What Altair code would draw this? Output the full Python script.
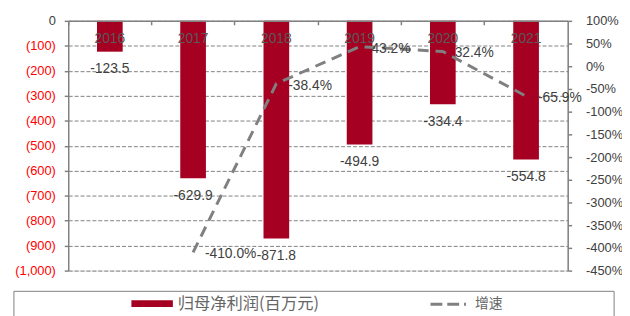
import altair as alt
import pandas as pd

years = ["2016", "2017", "2018", "2019", "2020", "2021"]
profit = [-123.5, -629.9, -871.8, -494.9, -334.4, -554.8]
growth = [None, -410.0, -38.4, 43.2, 32.4, -65.9]

bar_name = "归母净利润(百万元)"
line_name = "增速"

W, H = 506, 253

df = pd.DataFrame({"year": years, "profit": profit, "growth": growth})
df["profit_lbl"] = [f"{v:.1f}" for v in profit]
df["growth_lbl"] = [("" if g is None or pd.isna(g) else f"{g:.1f}%") for g in growth]

BAR_COLOR = "#A50021"
GREY = "#808080"
TXT = "#404040"
FONT = "Liberation Sans"

x_enc = alt.X(
    "year:N",
    sort=years,
    scale=alt.Scale(paddingInner=0, paddingOuter=0),
    axis=alt.Axis(
        orient="bottom", offset=-H, title=None, bandPosition=0,
        labelAngle=0, tickSize=4, tickColor=GREY, tickWidth=1.5,
        domainColor=GREY, domainWidth=1.5, labelPadding=7,
        labelColor="#595959", labelFont=FONT, labelFontSize=14,
        labelBaseline="top", zindex=1,
    ),
)

left_y = alt.Y(
    "profit:Q",
    scale=alt.Scale(domain=[-1000, 0], nice=False, zero=False),
    axis=alt.Axis(
        title=None, values=list(range(-1000, 1, 100)), labelOverlap=False,
        labelExpr="datum.value == 0 ? '0' : '(' + format(-datum.value, ',') + ')'",
        labelColor=alt.condition("datum.value == 0", alt.value(TXT), alt.value("#FF0000")),
        labelFont=FONT, labelFontSize=13, labelPadding=9,
        tickSize=4, tickColor=GREY, tickWidth=1.5, domainColor=GREY, domainWidth=1.5,
        grid=True, gridColor=GREY, gridDash=[4, 2], gridWidth=1,
    ),
)

bars = alt.Chart(df).mark_bar(color=BAR_COLOR, size=26).encode(x=x_enc, y=left_y)

bar_labels = alt.Chart(df).mark_text(
    baseline="middle", align="center", dy=18, font=FONT, fontSize=14, color=TXT
).encode(x=x_enc, y=left_y, text="profit_lbl:N")

left = alt.layer(bars, bar_labels)

right_y = alt.Y(
    "growth:Q",
    scale=alt.Scale(domain=[-450, 100], nice=False, zero=False),
    axis=alt.Axis(
        orient="right", title=None, values=list(range(-450, 101, 50)),
        labelOverlap=False, labelFlush=False,
        labelExpr="datum.value + '%'", labelColor=TXT, labelFont=FONT,
        labelFontSize=13, labelPadding=14, tickSize=4, tickColor=GREY, tickWidth=1.5,
        domainColor=GREY, domainWidth=1.5, grid=False,
    ),
)

line = alt.Chart(df).mark_line(
    color=GREY, strokeWidth=3, strokeDash=[11, 7]
).encode(x=x_enc, y=right_y)

line_labels = alt.Chart(df).transform_filter("datum.growth != null").mark_text(
    align="left", baseline="middle", dx=12, dy=2, font=FONT, fontSize=14, color=TXT
).encode(x=x_enc, y=right_y, text="growth_lbl:N")

right = alt.layer(line, line_labels)

# legend (decoration)
leg_df = pd.DataFrame({"a": [0]})
leg_box = alt.Chart(leg_df).mark_rect(fill=None, stroke="#7f7f7f", strokeWidth=1).encode(
    x=alt.value(-55), x2=alt.value(553), y=alt.value(274), y2=alt.value(320)
)
leg_bar = alt.Chart(leg_df).mark_rect(color=BAR_COLOR).encode(
    x=alt.value(64), x2=alt.value(106), y=alt.value(283), y2=alt.value(290)
)
leg_bar_txt = alt.Chart(leg_df).mark_text(
    align="left", baseline="middle", font="Noto Sans CJK SC", fontSize=16.5, color="#666666"
).encode(x=alt.value(111), y=alt.value(287), text=alt.value(bar_name))
leg_line = alt.Chart(leg_df).mark_rule(color=GREY, strokeWidth=3, strokeDash=[12, 5]).encode(
    x=alt.value(367), x2=alt.value(403), y=alt.value(287)
)
leg_line_txt = alt.Chart(leg_df).mark_text(
    align="left", baseline="middle", font="Noto Sans CJK SC", fontSize=14, color="#666666"
).encode(x=alt.value(412), y=alt.value(287), text=alt.value(line_name))

chart = alt.layer(
    left, right, leg_box, leg_bar, leg_bar_txt, leg_line, leg_line_txt
).resolve_scale(y="independent").properties(
    width=W, height=H,
    autosize=alt.AutoSizeParams(type="none"),
    padding={"left": 61, "top": 11, "right": 55, "bottom": 44},
).configure_view(stroke=None).configure(background="white")

chart.save("out.html", embed_options={"renderer": "svg", "actions": False})
